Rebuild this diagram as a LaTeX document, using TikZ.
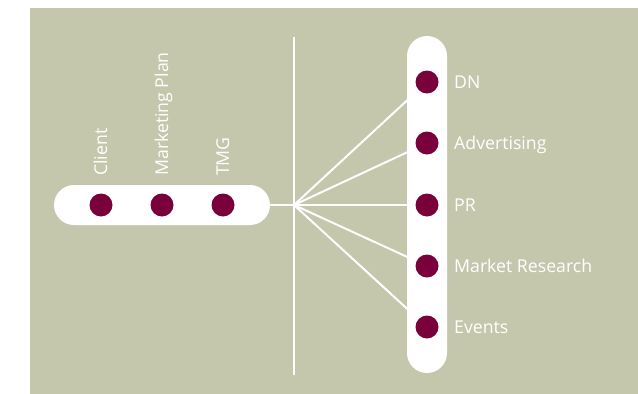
\documentclass[tikz,border=0pt]{standalone}
\usepackage{fontspec}
\setmainfont{Open Sans}
\definecolor{olive}{RGB}{197,199,173}
\definecolor{berry}{RGB}{122,0,60}
\begin{document}
\begin{tikzpicture}[x=1pt,y=-1pt,
  pill/.style={fill=white,rounded corners=20pt},
  dot/.style={circle,fill=berry,minimum size=23pt,inner sep=0pt},
  link/.style={white,line width=2pt},
  lbl/.style={text=white,font=\fontsize{17.7}{19}\selectfont,inner sep=0pt}]
\useasboundingbox (0,0) rectangle (638,394);
\fill[olive] (30,8) rectangle (638,394);
% spine
\coordinate (top) at (294,37);
\coordinate (bot) at (294,375);
\coordinate (hub) at (294,205);
\draw[link] (top) -- (bot);
% fan towards the right-hand dots (drawn under the pill)
\foreach \n/\y in {dn/82,adv/143,pr/205,mr/266,ev/327}{
  \coordinate (\n c) at (427,\y);
  \draw[link] (hub) -- (\n c);
}
% left pill with its three stages
\draw[link] (hub) -- (262,205);
\fill[pill] (54,185) rectangle (270,225);
\foreach \n/\x/\t in {cl/101/Client,mp/162/Marketing Plan,tm/223/TMG}{
  \node[dot] (\n) at (\x,205) {};
  \node[lbl,rotate=90,anchor=base west] (\n l) at (\x+6,176) {\t};
}
% right pill with the five channels
\fill[pill] (407,36) rectangle (447,373);
\foreach \n/\y/\t in {dn/82/DN,adv/143/Advertising,pr/205/PR,mr/266/Market Research,ev/327/Events}{
  \node[dot] (\n) at (427,\y) {};
  \node[lbl,anchor=base west] (\n l) at (454,\y+6) {\t};
}
\end{tikzpicture}
\end{document}
